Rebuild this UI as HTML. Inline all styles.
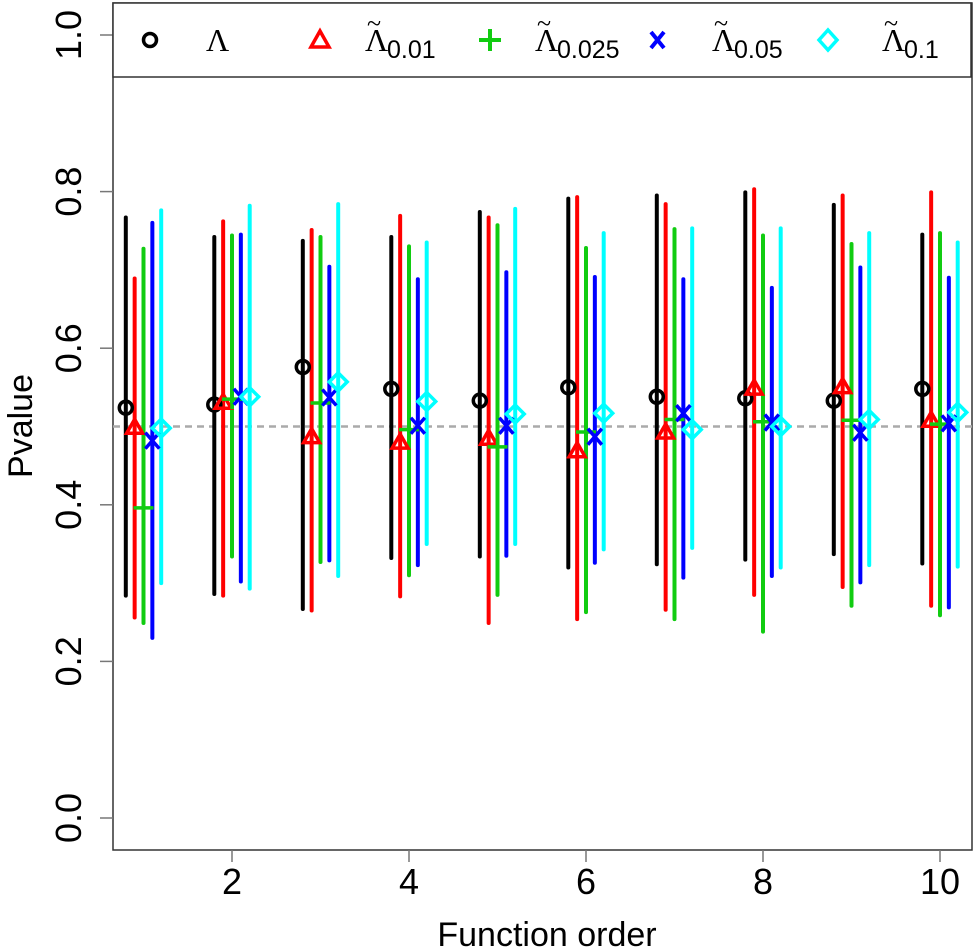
<!DOCTYPE html>
<html><head><meta charset="utf-8"><style>
body{margin:0;background:#fff;}
svg{display:block;font-family:"Liberation Sans",sans-serif;}
</style></head><body>
<svg id="chart" width="976" height="951" viewBox="0 0 976 951" xmlns="http://www.w3.org/2000/svg">
<rect x="113" y="3" width="859" height="847" fill="none" stroke="#333" stroke-width="1.5"/>
<g id="yaxis"></g>
<g id="xaxis"></g>
<text transform="translate(32,426) rotate(-90)" text-anchor="middle" font-size="34">Pvalue</text>
<text x="547" y="946" text-anchor="middle" font-size="34">Function order</text>
<line x1="113" x2="972" y1="426.5" y2="426.5" stroke="#aaa" stroke-width="2.5" stroke-dasharray="7,5"/>
<g id="marks"></g>
<g>
<rect x="113" y="3" width="858" height="74" fill="#fff" stroke="#333" stroke-width="1.5"/>
<circle cx="150" cy="40" r="6.5" fill="none" stroke="#000" stroke-width="3.5"/>
<text x="206" y="51" font-family="'Liberation Serif',serif" font-size="32">Λ</text>
<polygon points="320,31 329,47 311,47" fill="none" stroke="#f00" stroke-width="3.5"/>
<g><text x="365" y="51" font-family="'Liberation Serif',serif" font-size="32">Λ</text><text x="367" y="32" font-family="'Liberation Serif',serif" font-size="26">~</text><text x="387" y="58" font-size="25">0.01</text></g>
<path d="M479,40h22M490,29v22" stroke="#1c1" stroke-width="4"/>
<g><text x="535" y="51" font-family="'Liberation Serif',serif" font-size="32">Λ</text><text x="537" y="32" font-family="'Liberation Serif',serif" font-size="26">~</text><text x="557" y="58" font-size="25">0.025</text></g>
<path d="M651,32l13,16M664,32l-13,16" stroke="#00f" stroke-width="4"/>
<g><text x="712" y="51" font-family="'Liberation Serif',serif" font-size="32">Λ</text><text x="714" y="32" font-family="'Liberation Serif',serif" font-size="26">~</text><text x="734" y="58" font-size="25">0.05</text></g>
<polygon points="828,30 837,40 828,50 819,40" fill="none" stroke="#0ff" stroke-width="3.5"/>
<g><text x="882" y="51" font-family="'Liberation Serif',serif" font-size="32">Λ</text><text x="884" y="32" font-family="'Liberation Serif',serif" font-size="26">~</text><text x="904" y="58" font-size="25">0.1</text></g>
</g>
</svg>
<script>
const orders=[1,2,3,4,5,6,7,8,9,10];
const yTicks=[0,0.2,0.4,0.6,0.8,1.0];
const yTickLabels=["0.0","0.2","0.4","0.6","0.8","1.0"];
const xTicks=[2,4,6,8,10];
const seriesNames=["lambda","lambda-0.01","lambda-0.025","lambda-0.05","lambda-0.1"];
const lambdaMid=[0.524,0.528,0.576,0.548,0.533,0.550,0.538,0.536,0.533,0.548];
const lambdaLo=[0.284,0.286,0.267,0.332,0.334,0.320,0.324,0.330,0.337,0.325];
const lambdaHi=[0.767,0.742,0.737,0.742,0.774,0.791,0.795,0.799,0.783,0.745];
const l001Mid=[0.499,0.531,0.487,0.480,0.485,0.469,0.493,0.549,0.551,0.508];
const l001Lo=[0.256,0.284,0.265,0.283,0.249,0.254,0.266,0.285,0.295,0.271];
const l001Hi=[0.689,0.762,0.751,0.769,0.767,0.793,0.784,0.803,0.795,0.799];
const l0025Mid=[0.396,0.535,0.530,0.496,0.474,0.493,0.509,0.506,0.508,0.503];
const l0025Lo=[0.249,0.334,0.327,0.310,0.285,0.263,0.254,0.238,0.271,0.259];
const l0025Hi=[0.727,0.744,0.742,0.730,0.757,0.728,0.752,0.744,0.733,0.747];
const l005Mid=[0.482,0.538,0.537,0.501,0.501,0.487,0.517,0.505,0.492,0.504];
const l005Lo=[0.230,0.302,0.329,0.323,0.335,0.326,0.307,0.309,0.301,0.269];
const l005Hi=[0.760,0.745,0.704,0.688,0.697,0.691,0.688,0.677,0.703,0.690];
const l01Mid=[0.498,0.538,0.557,0.532,0.516,0.517,0.496,0.500,0.509,0.518];
const l01Lo=[0.300,0.293,0.309,0.350,0.350,0.343,0.345,0.320,0.323,0.321];
const l01Hi=[0.776,0.782,0.784,0.735,0.778,0.747,0.753,0.753,0.747,0.735];

const NS="http://www.w3.org/2000/svg";
function X(v){return 232+(v-2)*88.5;}
function Y(v){return 818-v*783;}
function mk(tag,attrs,parent){const e=document.createElementNS(NS,tag);for(const k in attrs)e.setAttribute(k,attrs[k]);parent.appendChild(e);return e;}
const ya=document.getElementById('yaxis');
yTicks.forEach((t,i)=>{
  const l=mk('line',{x1:100,x2:113,y1:Y(t),y2:Y(t),stroke:'#777','stroke-width':1.5},ya);
  
  
  const tx=mk('text',{transform:`translate(81,${Y(t)}) rotate(-90)`,'text-anchor':'middle','font-size':36},ya);
  tx.textContent=yTickLabels[i];
  
  
});
const xa=document.getElementById('xaxis');
xTicks.forEach(t=>{
  const l=mk('line',{x1:X(t),x2:X(t),y1:850,y2:862,stroke:'#777','stroke-width':1.5},xa);
  
  
  const tx=mk('text',{x:X(t),y:894,'text-anchor':'middle','font-size':36},xa);
  tx.textContent=t;
  
  
});
const series=[
 {mid:lambdaMid,lo:lambdaLo,hi:lambdaHi,color:'#000',off:-0.2,shape:'circle'},
 {mid:l001Mid,lo:l001Lo,hi:l001Hi,color:'#f00',off:-0.1,shape:'tri'},
 {mid:l0025Mid,lo:l0025Lo,hi:l0025Hi,color:'#1c1',off:0,shape:'plus'},
 {mid:l005Mid,lo:l005Lo,hi:l005Hi,color:'#00f',off:0.1,shape:'x'},
 {mid:l01Mid,lo:l01Lo,hi:l01Hi,color:'#0ff',off:0.2,shape:'diamond'}];
const mg=document.getElementById('marks');
series.forEach((s,si)=>{
  orders.forEach((o,i)=>{
    const x=X(o+s.off);
    const ln=mk('line',{x1:x,x2:x,y1:Y(s.lo[i]),y2:Y(s.hi[i]),stroke:s.color,'stroke-width':4,'stroke-linecap':'round'},mg);
    
    
  });
});
series.forEach((s,si)=>{
  orders.forEach((o,i)=>{
    const x=X(o+s.off),y=Y(s.mid[i]);let m;
    const st={fill:'none',stroke:s.color,'stroke-width':3.5};
    if(s.shape==='circle')m=mk('circle',Object.assign({cx:x,cy:y,r:6.5},st),mg);
    else if(s.shape==='tri')m=mk('polygon',Object.assign({points:`${x},${y-8} ${x+8},${y+6} ${x-8},${y+6}`},st),mg);
    else if(s.shape==='plus')m=mk('path',Object.assign({d:`M${x-10},${y}h20M${x},${y-10}v20`},st),mg);
    else if(s.shape==='x')m=mk('path',Object.assign({d:`M${x-7},${y-8}l14,16M${x+7},${y-8}l-14,16`},st),mg);
    else m=mk('polygon',Object.assign({points:`${x},${y-9} ${x+9},${y} ${x},${y+9} ${x-9},${y}`},st),mg);
    
    
  });
});
</script>
</body></html>
